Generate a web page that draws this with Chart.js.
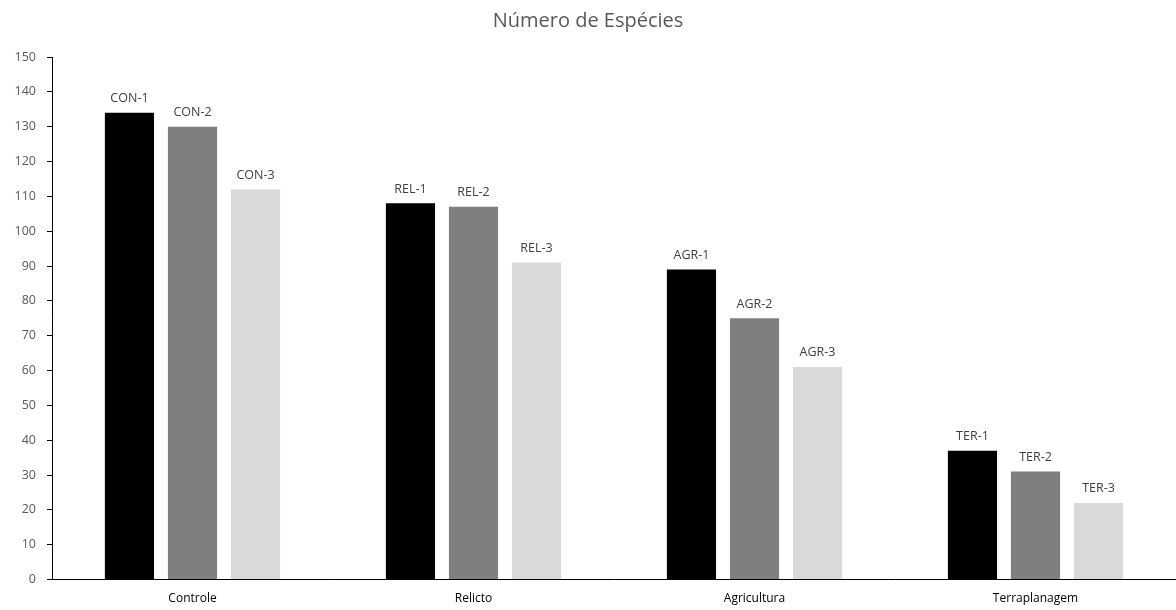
<!DOCTYPE html>
<html>
<head>
<meta charset="utf-8">
<script src="https://cdn.jsdelivr.net/npm/chart.js@4"></script>
<style>
  body { margin: 0; background: #fff; }
  #wrap { width: 1176px; height: 610px; }
</style>
</head>
<body>
<div id="wrap"><canvas id="grafico"></canvas></div>
<script>
// categorias e valores
const categorias = ['Controle', 'Relicto', 'Agricultura', 'Terraplanagem'];
const serie1 = [134, 108, 89, 37];
const serie2 = [130, 107, 75, 31];
const serie3 = [112, 91, 61, 22];
const rotulos1 = ['CON-1', 'REL-1', 'AGR-1', 'TER-1'];
const rotulos2 = ['CON-2', 'REL-2', 'AGR-2', 'TER-2'];
const rotulos3 = ['CON-3', 'REL-3', 'AGR-3', 'TER-3'];
const cores = ['#000000', '#7f7f7f', '#d9d9d9'];

const fonte = '"Open Sans", "Noto Sans", sans-serif';

// escreve o nome de cada barra acima dela
const rotulosBarras = {
    id: 'rotulosBarras',
    afterDatasetsDraw(chart) {
        const ctx = chart.ctx;
        ctx.save();
        ctx.font = '12.5px ' + fonte;
        ctx.fillStyle = '#404040';
        ctx.textAlign = 'center';
        ctx.textBaseline = 'bottom';
        chart.data.datasets.forEach((ds, i) => {
            chart.getDatasetMeta(i).data.forEach((bar, j) => {
                ctx.fillText(ds.rotulos[j], bar.x, bar.y - 8);
            });
        });
        ctx.restore();
    }
};

function configurarGrafico() {
    const ctx = document.getElementById('grafico').getContext('2d');
    new Chart(ctx, {
        type: 'bar',
        data: {
            labels: categorias,
            datasets: [
                { data: serie1, rotulos: rotulos1, backgroundColor: cores[0] },
                { data: serie2, rotulos: rotulos2, backgroundColor: cores[1] },
                { data: serie3, rotulos: rotulos3, backgroundColor: cores[2] }
            ]
        },
        options: {
            responsive: true,
            maintainAspectRatio: false,
            animation: false,
            datasets: {
                bar: { categoryPercentage: 0.673, barPercentage: 0.78 }
            },
            layout: { padding: { top: 0, right: 0, left: 0, bottom: 0 } },
            plugins: {
                legend: { display: false },
                tooltip: { enabled: false },
                title: {
                    display: true,
                    text: 'Número de Espécies',
                    color: '#595959',
                    font: { family: fonte, size: 20, weight: 'normal' },
                    padding: { top: 9, bottom: 24 }
                }
            },
            scales: {
                x: {
                    grid: { display: false },
                    border: { display: true, color: '#000', width: 1 },
                    ticks: { color: '#000', font: { family: fonte, size: 12 }, padding: 4 }
                },
                y: {
                    min: 0,
                    max: 150,
                    ticks: { stepSize: 10, color: '#595959', font: { family: fonte, size: 12.5 }, padding: 11 },
                    grid: { drawOnChartArea: false, tickLength: 5, color: '#000' },
                    border: { display: true, color: '#000', width: 1 },
                    afterFit(escala) { escala.width = 52; }
                }
            }
        },
        plugins: [rotulosBarras]
    });
}

window.onload = configurarGrafico;
</script>
</body>
</html>
